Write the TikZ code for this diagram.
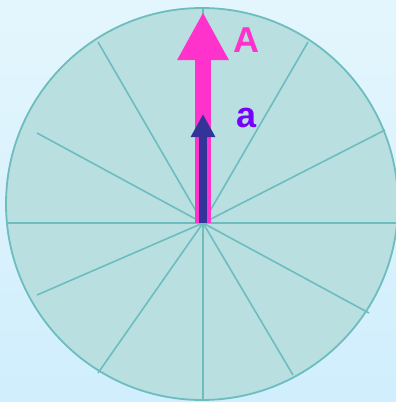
\documentclass[tikz,border=0pt]{standalone}
\usepackage{fontspec}
\setmainfont{Liberation Sans}
\usetikzlibrary{arrows.meta}
\definecolor{bgtop}{HTML}{E4F6FD}
\definecolor{bgbot}{HTML}{D0EEFD}
\definecolor{diskfill}{HTML}{B9DFE1}
\definecolor{diskline}{HTML}{6DBDBF}
\definecolor{bigpink}{HTML}{FF33CC}
\definecolor{smallblue}{HTML}{333399}
\definecolor{labpurple}{HTML}{7700FF}
\begin{document}
\begin{tikzpicture}[x=1pt,y=-1pt,
  spoke/.style={diskline,line width=1.6pt},
  biglab/.style={font=\bfseries\fontsize{36}{36}\selectfont,inner sep=0pt},
  bigarr/.style={bigpink,line width=16pt,-{Triangle[length=48pt,width=48pt]}},
  smallarr/.style={smallblue,line width=8pt,-{Triangle[length=23pt,width=23pt]}}]
\useasboundingbox (0,0) rectangle (396,402);
\clip (0,0) rectangle (396,402);
% ---- background ----
\shade[top color=bgtop,bottom color=bgbot] (0,0) rectangle (396,402);
% ---- disk with spokes ----
\fill[diskfill] (202,204) circle (196);
\coordinate (hub) at (203,223);
\foreach \px/\py in {203/8,98/42,37/133,7/223,37/295,98/373,203/400,293/375,369/313,396/223,385/130,308/42}{
  \draw[spoke] (hub) -- (\px,\py);}
\draw[diskline,line width=1.8pt] (202,204) circle (196);
% ---- vectors ----
\coordinate (bigtip) at (203,12);
\coordinate (smalltip) at (203,114);
\draw[bigarr] (hub) -- (bigtip);
\draw[smallarr] (hub) -- (smalltip);
\node[biglab,bigpink] (labA) at (246,40) {A};
\node[biglab,labpurple] (laba) at (247,118) {a};
\end{tikzpicture}
\end{document}
